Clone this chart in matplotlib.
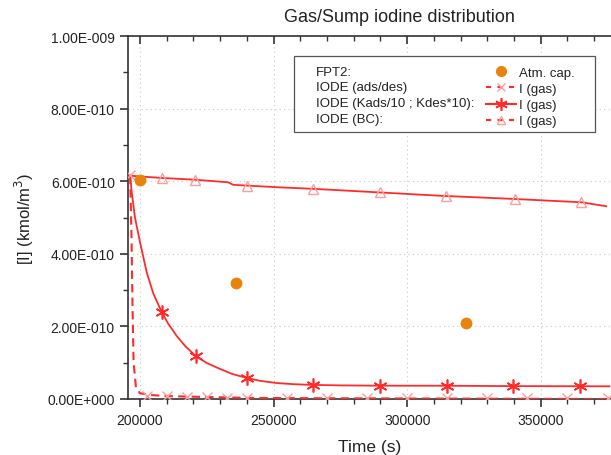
import matplotlib
matplotlib.use("Agg")
import matplotlib.pyplot as plt
from matplotlib.lines import Line2D
from matplotlib.patches import Rectangle
from matplotlib.ticker import FixedLocator, MultipleLocator

plt.rcParams['font.family'] = ['Liberation Sans', 'DejaVu Sans']

# ---------------- data ----------------
# FPT2 atmosphere capsule measurements
t_fpt2 = [200000, 235900, 321900]
y_fpt2 = [6.04e-10, 3.19e-10, 2.09e-10]

# IODE (ads/des) : I (gas)
t_ads = [196300, 196800, 197200, 197600, 198500, 200000, 203700, 210000,
         222000, 241000, 270000, 312000, 376000]
y_ads = [6.15e-10, 4.5e-10, 2.5e-10, 1.0e-10, 0.30e-10, 0.16e-10, 0.11e-10,
         0.08e-10, 0.06e-10, 0.03e-10, 0.02e-10, 0.012e-10, 0.0]
t_ads_mk = [196300, 202500, 210000, 217500, 225000, 232500, 240000, 255000,
            270000, 285000, 300000, 315000, 330000, 345000, 360000, 375000]
y_ads_mk = [6.18e-10, 0.08e-10, 0.07e-10, 0.06e-10, 0.05e-10, 0.04e-10,
            0.02e-10, 0.02e-10, 0.02e-10, 0.02e-10, 0.02e-10, 0.02e-10,
            0.02e-10, 0.02e-10, 0.02e-10, 0.02e-10]

# IODE (Kads/10 ; Kdes*10) : I (gas)
t_k = [196300, 196900, 198100, 200000, 202500, 205000, 208100, 210500,
       213700, 217000, 220800, 225000, 229900, 234500, 239900, 245000,
       251100, 257000, 263600, 275000, 289800, 314800, 339600, 375700]
y_k = [6.15e-10, 5.69e-10, 5.0e-10, 4.32e-10, 3.49e-10, 2.90e-10, 2.40e-10,
       2.08e-10, 1.74e-10, 1.45e-10, 1.19e-10, 0.99e-10, 0.83e-10, 0.69e-10,
       0.58e-10, 0.50e-10, 0.44e-10, 0.41e-10, 0.39e-10, 0.375e-10,
       0.367e-10, 0.365e-10, 0.355e-10, 0.35e-10]
t_k_mk = [208100, 220800, 239900, 264800, 289800, 314800, 339600, 364800]
y_k_mk = [2.40e-10, 1.19e-10, 0.58e-10, 0.386e-10, 0.367e-10, 0.365e-10,
          0.355e-10, 0.35e-10]

# IODE (BC) : I (gas)
t_bc = [196300, 208100, 220600, 233000, 234900, 239900, 252400, 264800,
        289800, 312200, 340200, 365200, 374500]
y_bc = [6.15e-10, 6.09e-10, 6.04e-10, 5.97e-10, 5.90e-10, 5.88e-10, 5.83e-10,
        5.79e-10, 5.69e-10, 5.60e-10, 5.51e-10, 5.42e-10, 5.31e-10]
t_bc_mk = [208100, 220600, 239900, 264800, 289800, 314700, 340200, 365200]
y_bc_mk = [6.09e-10, 6.04e-10, 5.88e-10, 5.79e-10, 5.69e-10, 5.60e-10,
           5.51e-10, 5.42e-10]

x_ticks = [200000, 250000, 300000, 350000]
x_tick_labels = ["200000", "250000", "300000", "350000"]
y_ticks = [0.0, 2e-10, 4e-10, 6e-10, 8e-10, 1e-9]
y_tick_labels = ["0.00E+000", "2.00E-010", "4.00E-010", "6.00E-010",
                 "8.00E-010", "1.00E-009"]

RED = '#ff2b2b'
PINK = '#ff9d9d'
ORANGE = '#e8840c'
TXT = '#222222'

# ---------------- figure ----------------
fig = plt.figure(figsize=(6.11, 4.56), dpi=100)
ax = fig.add_axes([128 / 611, 1 - 400 / 456, 1 - 128 / 611, (400 - 37) / 456])

ax.set_xlim(195500, 376300)
ax.set_ylim(0, 1e-9)

# grid
ax.xaxis.set_major_locator(FixedLocator(x_ticks))
ax.xaxis.set_minor_locator(MultipleLocator(10000))
ax.yaxis.set_major_locator(FixedLocator(y_ticks))
ax.yaxis.set_minor_locator(MultipleLocator(1e-10))
ax.grid(True, which='major', color='#c8c8c8', linestyle=(0, (1, 3)), linewidth=0.8)
ax.set_axisbelow(True)

# curves
ax.plot(t_bc, y_bc, color=RED, lw=1.3, zorder=3)
ax.plot(t_bc_mk, y_bc_mk, ls='none', marker='^', ms=7, mfc='none',
        mec=PINK, mew=1.0, zorder=3)
ax.plot(t_k, y_k, color=RED, lw=1.3, zorder=3)
ax.plot(t_k_mk, y_k_mk, ls='none', marker=(6, 2, 0), ms=10, mec=RED,
        mew=1.2, zorder=4)
ax.plot(t_ads, y_ads, color=RED, lw=1.5, ls=(0, (4, 2.5)), zorder=3)
ax.plot(t_ads_mk, y_ads_mk, ls='none', marker='x', ms=7, mec=PINK,
        mew=1.0, zorder=3)
ax.plot(t_fpt2, y_fpt2, ls='none', marker='o', ms=7.5, mfc=ORANGE,
        mec=ORANGE, zorder=5)

# spines & ticks
ax.spines['right'].set_visible(False)
for s in ['left', 'bottom', 'top']:
    ax.spines[s].set_color('#333333')
    ax.spines[s].set_linewidth(1.2)
ax.set_xticks(x_ticks)
ax.set_xticklabels(x_tick_labels)
ax.set_yticks(y_ticks)
ax.set_yticklabels(y_tick_labels)
ax.tick_params(axis='both', which='major', labelsize=10, length=6, width=1.2,
               color='#333333', labelcolor=TXT, direction='out')
ax.tick_params(axis='both', which='minor', length=3.5, width=1.0,
               color='#333333', direction='out')
ax.tick_params(axis='x', which='both', top=True)
ax.tick_params(axis='x', which='major', pad=4)
# top ticks point inward
for tk in ax.xaxis.get_major_ticks() + ax.xaxis.get_minor_ticks():
    tk.tick2line.set_marker(3)

ax.set_xlabel("Time (s)", fontsize=12.5, color=TXT, labelpad=9)
ax.set_ylabel("[I] (kmol/m$^3$)", fontsize=12, color=TXT, labelpad=8)
fig.text(399 / 611, 1 - 18 / 456, "Gas/Sump iodine distribution",
         ha='center', va='center', fontsize=13, color=TXT)

# legend box (two columns: text labels on left, symbols on right)
x0, x1 = (294 - 128) / 483, (595 - 128) / 483
y0, y1 = (400 - 133) / 363, (400 - 57) / 363
ax.add_patch(Rectangle((x0, y0), x1 - x0, y1 - y0, transform=ax.transAxes,
                       facecolor='white', edgecolor='#555555', lw=0.9,
                       zorder=6))
left_labels = ["FPT2:", "IODE (ads/des)", "IODE (Kads/10 ; Kdes*10):",
               "IODE (BC):"]
rows_px = [72.5, 88.5, 104, 119.5]
for lab, py in zip(left_labels, rows_px):
    ax.text((316 - 128) / 483, (400 - py) / 363, lab, transform=ax.transAxes,
            ha='left', va='center', fontsize=9.5, color=TXT, zorder=7)

handles = [
    Line2D([], [], ls='none', marker='o', ms=7, mfc=ORANGE, mec=ORANGE),
    Line2D([], [], color=RED, lw=1.5, ls=(0, (2.5, 3)), marker='x', ms=6,
           mec=PINK, mew=1.0),
    Line2D([], [], color=RED, lw=1.5, ls='-', marker=(6, 2, 0), ms=9,
           mec=RED, mew=1.2),
    Line2D([], [], color=RED, lw=1.5, ls=(0, (2.5, 3)), marker='^', ms=6,
           mfc='none', mec=PINK, mew=1.0),
]
labels = ["Atm. cap.", "I (gas)", "I (gas)", "I (gas)"]
leg = ax.legend(handles, labels, loc='upper left',
                bbox_to_anchor=((486 - 128) / 483, (400 - 67.5) / 363),
                frameon=False, fontsize=9.5, handlelength=2.3,
                handletextpad=0.2, labelspacing=0.3, borderpad=0.0,
                borderaxespad=0.0, labelcolor=TXT)
leg.set_zorder(8)

fig.savefig("out.png", dpi=100)
